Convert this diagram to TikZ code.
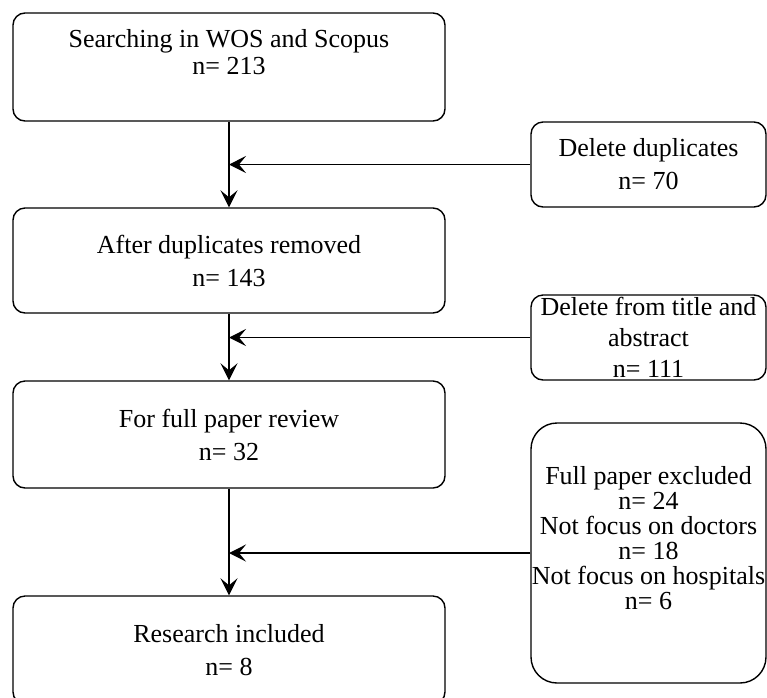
\documentclass[tikz,border=0pt]{standalone}
\usepackage{fontspec}
\setmainfont{Liberation Serif}
\usetikzlibrary{arrows.meta}
\begin{document}
\begin{tikzpicture}[x=1pt,y=-1pt,
  txt/.style={align=center, font=\fontsize{26}{33}\selectfont},
  box/.style={draw, line width=1.4pt, rounded corners=12pt, txt,
    minimum width=432pt, inner sep=0pt},
  sidebox/.style={draw, line width=1.4pt, rounded corners=12pt, txt,
    minimum width=235pt, minimum height=85pt, inner sep=0pt},
  flow/.style={line width=1.4pt, -{Stealth[length=17pt,width=17pt,inset=7pt]}}]
\useasboundingbox (0,0) rectangle (767,697);
\node[box, minimum height=108pt,
  label={[anchor=north, yshift=-14pt, align=center, font=\fontsize{26}{27}\selectfont]north:Searching in WOS and Scopus\\n= 213}]
  (s1) at (229,67) {};
\node[box, minimum height=105pt] (s2) at (229,260.5) {After duplicates removed\\n= 143};
\node[box, minimum height=107pt] (s3) at (229,434.5) {For full paper review\\n= 32};
\node[box, minimum height=108pt] (s4) at (229,650) {Research included\\n= 8};
\node[sidebox] (r1) at (648.5,164.5) {Delete duplicates\\n= 70};
\node[sidebox, font=\fontsize{26}{31}\selectfont] (r2) at (648.5,337.5) {Delete from title and\\abstract\\n= 111};
\node[sidebox, minimum height=260pt, rounded corners=26pt, font=\fontsize{26}{25}\selectfont] (r3) at (648.5,553)
  {Full paper excluded\\n= 24\\Not focus on doctors\\n= 18\\Not focus on hospitals\\n= 6\\[6pt]};
\coordinate (j1) at (229,164.5);
\coordinate (j2) at (229,337.5);
\coordinate (j3) at (229,553);
\draw[flow] (s1) -- (s2);
\draw[flow] (s2) -- (s3);
\draw[flow] (s3) -- (s4);
\draw[flow] (r1) -- (j1);
\draw[flow] (r2) -- (j2);
\draw[flow] (r3) -- (j3);
\end{tikzpicture}
\end{document}
